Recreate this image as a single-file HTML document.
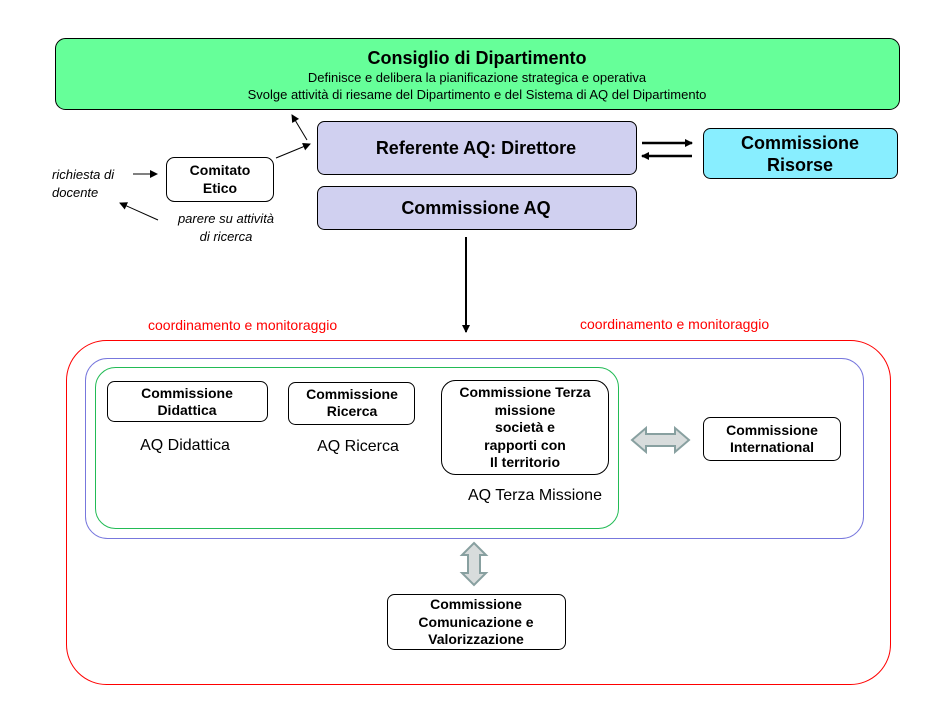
<!DOCTYPE html>
<html><head><meta charset="utf-8"><style>html,body{margin:0;padding:0;background:#fff}svg{display:block}</style></head>
<body>
<svg width="948" height="712" viewBox="0 0 948 712" xmlns="http://www.w3.org/2000/svg" font-family="Liberation Sans, Arial, sans-serif">
<defs>
<marker id="ah" markerWidth="8" markerHeight="8" refX="7" refY="4" orient="auto" markerUnits="userSpaceOnUse"><path d="M0,0 L8,4 L0,8 z" fill="#000"/></marker>
</defs>
<rect x="55.5" y="38.5" width="844" height="71" rx="10" fill="#66ff99" stroke="#000"/>
<text x="477" y="64" text-anchor="middle" font-size="18" font-weight="bold">Consiglio di Dipartimento</text>
<text x="477" y="82" text-anchor="middle" font-size="13">Definisce  e delibera la pianificazione strategica e operativa</text>
<text x="477" y="99" text-anchor="middle" font-size="13">Svolge attività di riesame del Dipartimento e del Sistema di AQ del Dipartimento</text>

<rect x="317.5" y="121.5" width="319" height="53" rx="7" fill="#d0d0f0" stroke="#000"/>
<text x="476" y="154" text-anchor="middle" font-size="18" font-weight="bold">Referente AQ: Direttore</text>
<rect x="317.5" y="186.5" width="319" height="43" rx="7" fill="#d0d0f0" stroke="#000"/>
<text x="476" y="214" text-anchor="middle" font-size="18" font-weight="bold">Commissione AQ</text>

<rect x="703.5" y="128.5" width="194" height="50" rx="7" fill="#88eeff" stroke="#000"/>
<text x="800" y="149" text-anchor="middle" font-size="18" font-weight="bold">Commissione</text>
<text x="800" y="171" text-anchor="middle" font-size="18" font-weight="bold">Risorse</text>
<line x1="642" y1="143" x2="692" y2="143" stroke="#000" stroke-width="2.5" marker-end="url(#ah)"/>
<line x1="692" y1="156" x2="642" y2="156" stroke="#000" stroke-width="2.5" marker-end="url(#ah)"/>

<rect x="166.5" y="157.5" width="107" height="44" rx="8" fill="#fff" stroke="#000"/>
<text x="220" y="175" text-anchor="middle" font-size="14" font-weight="bold">Comitato</text>
<text x="220" y="193" text-anchor="middle" font-size="14" font-weight="bold">Etico</text>
<text x="52" y="179" font-size="13" font-style="italic">richiesta di</text>
<text x="52" y="197" font-size="13" font-style="italic">docente</text>
<line x1="133" y1="174" x2="157" y2="174" stroke="#000" marker-end="url(#ah)"/>
<text x="226" y="223" text-anchor="middle" font-size="13" font-style="italic">parere su attività</text>
<text x="226" y="241" text-anchor="middle" font-size="13" font-style="italic">di ricerca</text>
<line x1="158" y1="220" x2="120" y2="203" stroke="#000" marker-end="url(#ah)"/>
<line x1="276" y1="158" x2="310" y2="144" stroke="#000" marker-end="url(#ah)"/>
<line x1="307" y1="140" x2="292" y2="115" stroke="#000" marker-end="url(#ah)"/>

<line x1="466" y1="237" x2="466" y2="332" stroke="#000" stroke-width="2" marker-end="url(#ah)"/>

<text x="148" y="330" font-size="14" fill="#ff0000">coordinamento e monitoraggio</text>
<text x="580" y="329" font-size="14" fill="#ff0000">coordinamento e monitoraggio</text>

<rect x="66.5" y="340.5" width="824" height="344" rx="40" fill="none" stroke="#ff0000"/>
<rect x="85.5" y="358.5" width="778" height="180" rx="22" fill="none" stroke="#7777dd"/>
<rect x="95.5" y="367.5" width="523" height="161" rx="20" fill="none" stroke="#22bb55"/>

<rect x="107.5" y="381.5" width="160" height="40" rx="7" fill="#fff" stroke="#000"/>
<text x="187" y="398" text-anchor="middle" font-size="14" font-weight="bold">Commissione</text>
<text x="187" y="415" text-anchor="middle" font-size="14" font-weight="bold">Didattica</text>
<text x="185" y="450" text-anchor="middle" font-size="16">AQ Didattica</text>

<rect x="288.5" y="382.5" width="126" height="42" rx="7" fill="#fff" stroke="#000"/>
<text x="352" y="399" text-anchor="middle" font-size="14" font-weight="bold">Commissione</text>
<text x="352" y="416" text-anchor="middle" font-size="14" font-weight="bold">Ricerca</text>
<text x="358" y="451" text-anchor="middle" font-size="16">AQ Ricerca</text>

<rect x="441.5" y="380.5" width="167" height="94" rx="14" fill="#fff" stroke="#000"/>
<g text-anchor="middle" font-size="14" font-weight="bold">
<text x="525" y="397">Commissione Terza</text>
<text x="525" y="415">missione</text>
<text x="525" y="432">società e</text>
<text x="525" y="450">rapporti con</text>
<text x="525" y="467">Il territorio</text>
</g>
<text x="468" y="500" font-size="16">AQ Terza Missione</text>

<path d="M632,440 L646,428 L646,434 L675,434 L675,428 L689,440 L675,452 L675,446 L646,446 L646,452 Z" fill="#d8dcdc" stroke="#88a0a0" stroke-width="2"/>
<rect x="703.5" y="417.5" width="137" height="43" rx="7" fill="#fff" stroke="#000"/>
<text x="772" y="435" text-anchor="middle" font-size="14" font-weight="bold">Commissione</text>
<text x="772" y="452" text-anchor="middle" font-size="14" font-weight="bold">International</text>

<path d="M474,543 L486,555 L480,555 L480,573 L486,573 L474,585 L462,573 L468,573 L468,555 L462,555 Z" fill="#d8dcdc" stroke="#88a0a0" stroke-width="2"/>

<rect x="387.5" y="594.5" width="178" height="55" rx="7" fill="#fff" stroke="#000"/>
<g text-anchor="middle" font-size="14" font-weight="bold">
<text x="476" y="609">Commissione</text>
<text x="476" y="627">Comunicazione e</text>
<text x="476" y="644">Valorizzazione</text>
</g>
</svg>
</body></html>
